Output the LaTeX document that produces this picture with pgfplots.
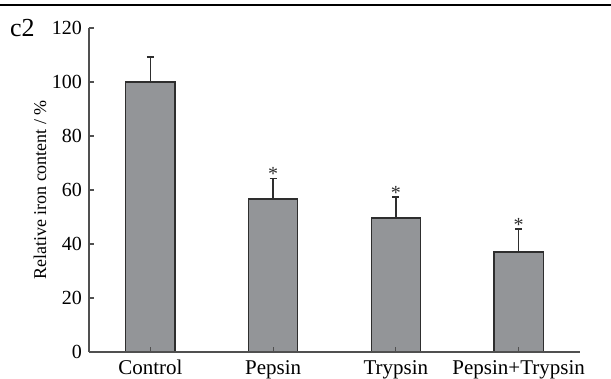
\documentclass[border=0pt]{standalone}
\usepackage{pgfplots}
\pgfplotsset{compat=1.18}
\usepackage{fontspec}
\setmainfont{Liberation Serif}
\definecolor{barfill}{HTML}{939598}
\definecolor{baredge}{HTML}{2E2E2E}
\definecolor{axisgray}{HTML}{505050}

% relative iron content (%) with standard deviation
\pgfplotstableread{
x  y     e
0  100.0 9.2
1  56.7  7.6
2  49.6  7.8
3  37.0  8.5
}\irondata

\begin{document}
\begin{tikzpicture}
\path[use as bounding box] (-89pt,-26pt) rectangle (522pt,352pt);
\draw[line width=2.8pt] (-89pt,347pt) -- (522pt,347pt);
\node[anchor=base west, inner sep=0, font=\fontsize{26}{26}\selectfont] at (-79pt,315pt) {c2};
\begin{axis}[
  at={(0pt,0pt)}, anchor=south west,
  scale only axis, width=491pt, height=324pt,
  xmin=-0.5, xmax=3.5, ymin=0, ymax=120,
  axis x line*=bottom, axis y line*=left,
  xtick={0,1,2,3},
  xticklabels={Control,Pepsin,Trypsin,Pepsin+Trypsin},
  ytick={0,20,...,120},
  /pgf/number format/assume math mode=true,
  tick align=inside, major tick length=5pt,
  axis line style={axisgray, line width=1.3pt, -},
  tick style={axisgray, line width=1.1pt},
  axis on top,
  xticklabel style={font=\fontsize{21}{21}\selectfont, anchor=base, inner sep=0pt, yshift=-22pt},
  yticklabel style={font=\fontsize{20}{20}\selectfont, anchor=east, inner sep=0pt, xshift=-7pt},
  ylabel={Relative iron content / \%},
  ylabel style={at={(axis description cs:-0.1,0.5)}, anchor=center, rotate=0,
    font=\fontsize{18}{18}\selectfont},
]
\addplot[ybar, bar width=0.4, fill=barfill, draw=baredge, line width=1.3pt,
  error bars/.cd, y dir=plus, y explicit,
  error bar style={line width=1.6pt, baredge},
  error mark options={rotate=90, mark size=3.5pt, line width=1.6pt, baredge}]
  table[x=x, y=y, y error=e] {\irondata};
\foreach \i/\top in {1/64.3, 2/57.4, 3/45.5} {
  \edef\tmp{\noexpand\node[anchor=base, inner sep=0pt, yshift=-2.5pt, text=baredge,
    font=\noexpand\fontsize{20}{20}\noexpand\selectfont] at (axis cs:\i,\top) {*};}
  \tmp
}
\end{axis}
\end{tikzpicture}
\end{document}
